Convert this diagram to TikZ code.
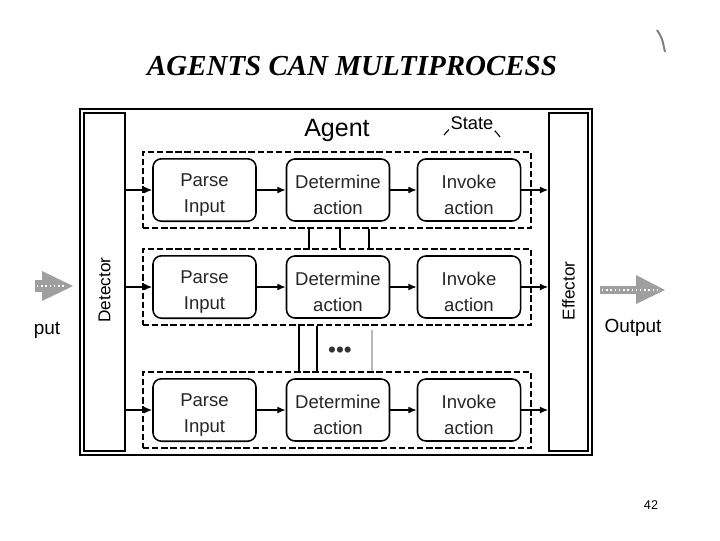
\documentclass[tikz,border=0pt]{standalone}
\usepackage{fontspec}
\setmainfont{Liberation Sans}
\newfontfamily\titlefont{Liberation Serif}
\usetikzlibrary{arrows.meta}

\newcommand{\twoline}[2]{\rule{0pt}{16.5pt}#1\\#2}

\tikzset{
  proc/.style={draw,line width=1.1pt,rounded corners=6pt,minimum width=2.575cm,
    minimum height=1.55cm,align=center,text=black!85,font=\fontsize{13.2}{18.5}\selectfont},
  lane/.style={draw,dash pattern=on 4.5pt off 2pt,line width=1.3pt,
    minimum width=9.7cm,minimum height=1.9cm},
  side/.style={draw,line width=1.1pt,minimum height=8.45cm},
  sidetext/.style={rotate=90,font=\fontsize{12.2}{14}\selectfont},
  link/.style={line width=1pt,-{Latex[length=6pt,width=5pt]}},
  bar/.style={line width=1pt},
  bigarrow/.style={fill=gray!75}
}

\begin{document}
\begin{tikzpicture}[x=0.025cm,y=-0.025cm]
  \useasboundingbox (0,0) rectangle (720,540);
  \node[font=\titlefont\fontsize{20.6}{24}\selectfont\bfseries\itshape] (title) at (352,66) {AGENTS CAN MULTIPROCESS};
  \draw[line width=1.4pt] (80,109) rectangle (592,455);
  \node[side,minimum width=1.025cm] (det) at (104.5,282) {};
  \node[sidetext] (detlbl) at (104.5,290) {Detector};
  \node[side,minimum width=0.975cm] (eff) at (568.5,282) {};
  \node[sidetext] (efflbl) at (568.5,291) {Effector};
  \node[font=\fontsize{17.8}{20}\selectfont] (agent) at (337,130) {Agent};
  \draw[line width=0.8pt] (444,135) .. controls (462,113) and (484,115) .. (500,137);
  \node[font=\fontsize{13}{15}\selectfont,fill=white,inner sep=1pt] (state) at (472,123) {State};

  \node[lane] (r1) at (337,190) {};
  \node[lane] (r2) at (337,287) {};
  \node[lane] (r3) at (337,410) {};

  \node[proc] (p1) at (204.5,190) {\twoline{Parse}{Input}};
  \node[proc] (d1) at (338,190) {\twoline{Determine}{action}};
  \node[proc] (v1) at (469,190) {\twoline{Invoke}{action}};
  \node[proc] (p2) at (204.5,287) {\twoline{Parse}{Input}};
  \node[proc] (d2) at (338,287) {\twoline{Determine}{action}};
  \node[proc] (v2) at (469,287) {\twoline{Invoke}{action}};
  \node[proc] (p3) at (204.5,410) {\twoline{Parse}{Input}};
  \node[proc] (d3) at (338,410) {\twoline{Determine}{action}};
  \node[proc] (v3) at (469,410) {\twoline{Invoke}{action}};

  \draw[link] (det.east |- p1) -- (p1);
  \draw[link] (p1) -- (d1);
  \draw[link] (d1) -- (v1);
  \draw[link] (v1) -- (eff.west |- v1);
  \draw[link] (det.east |- p2) -- (p2);
  \draw[link] (p2) -- (d2);
  \draw[link] (d2) -- (v2);
  \draw[link] (v2) -- (eff.west |- v2);
  \draw[link] (det.east |- p3) -- (p3);
  \draw[link] (p3) -- (d3);
  \draw[link] (d3) -- (v3);
  \draw[link] (v3) -- (eff.west |- v3);

  \draw[bar] (309,0 |- r1.south) -- (309,0 |- r2.north);
  \draw[bar] (340,0 |- r1.south) -- (340,0 |- r2.north);
  \draw[bar] (369,0 |- r1.south) -- (369,0 |- r2.north);
  \draw[bar] (299,0 |- r2.south) -- (299,0 |- r3.north);
  \draw[bar] (317,0 |- r2.south) -- (317,0 |- r3.north);
  \draw[bar,gray!55] (372,330) -- (372,0 |- r3.north);
  \node[font=\fontsize{16}{18}\selectfont,text=black!80,inner sep=0pt] (more) at (340,352) {\textbullet\textbullet\textbullet};

  \fill[bigarrow] (35,280) rectangle (44,292);
  \fill[bigarrow] (42,271) -- (73,286) -- (42,301) -- cycle;
  \draw[white,line width=0.9pt,dash pattern=on 1pt off 2pt] (37,286) -- (66,286);
  \node[font=\fontsize{13.5}{16}\selectfont] (inlbl) at (47,330) {put};

  \fill[bigarrow] (600,286) rectangle (638,294);
  \fill[bigarrow] (636,275) -- (665,290) -- (636,304) -- cycle;
  \draw[white,line width=0.9pt,dash pattern=on 1pt off 2pt] (602,290) -- (658,290);
  \node[font=\fontsize{13.5}{16}\selectfont] (outlbl) at (633,328) {Output};

  \draw[gray,line width=1.4pt] (657,30) .. controls (662,38) .. (665,52);
  \node[font=\fontsize{9}{11}\selectfont] (page) at (651,505) {42};
\end{tikzpicture}
\end{document}
